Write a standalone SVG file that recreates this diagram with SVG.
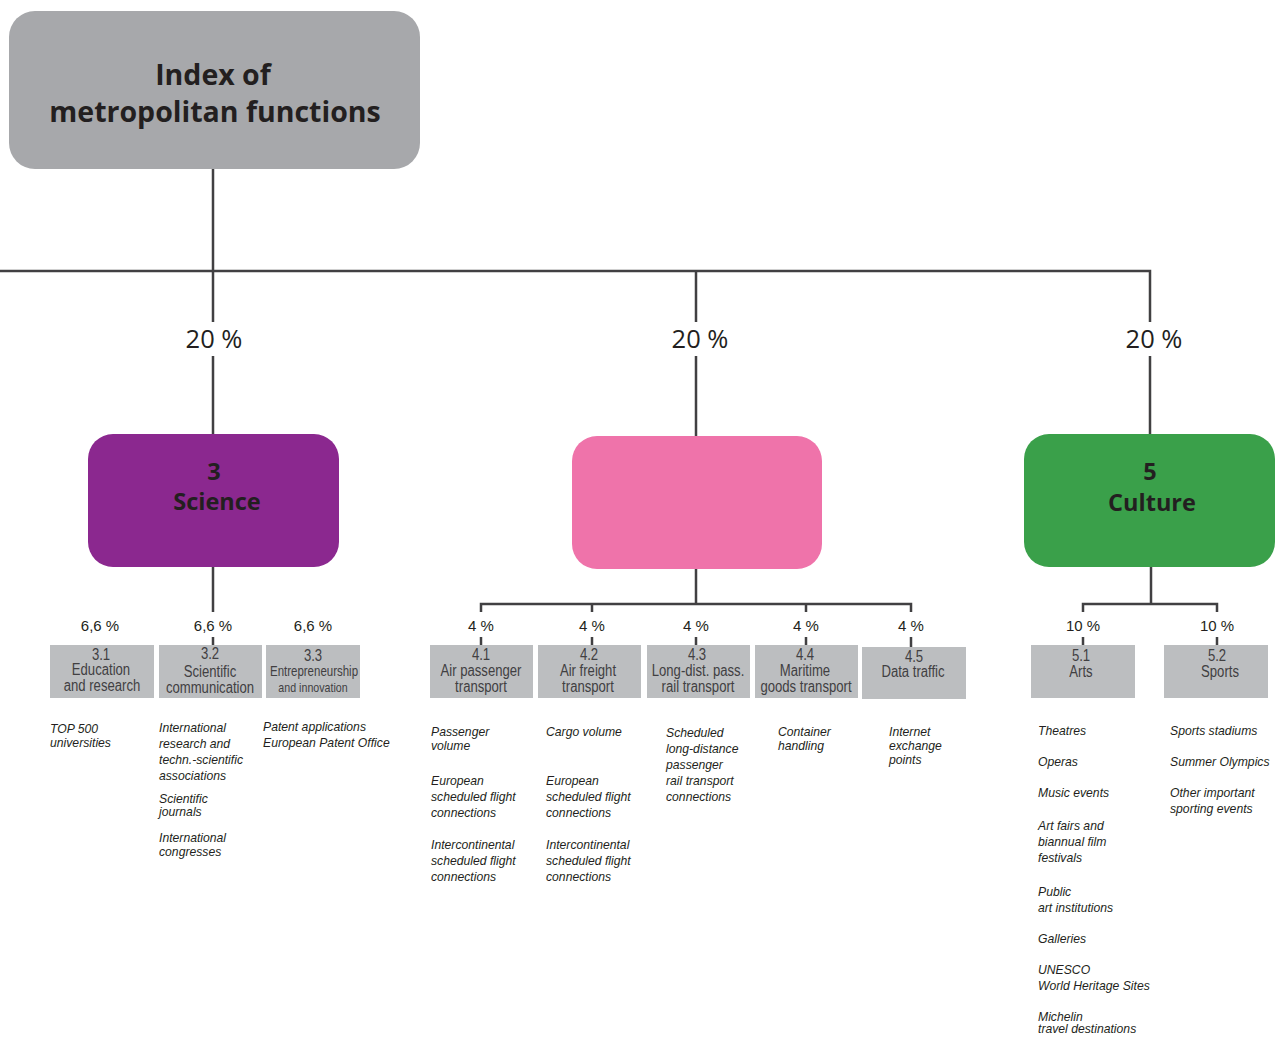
<svg xmlns="http://www.w3.org/2000/svg" width="1275" height="1037" viewBox="0 0 1275 1037">
<style>
.ln{stroke:#414042;stroke-width:2.5;fill:none}
.pct{font-family:"Open Sans","Liberation Sans",sans-serif;font-size:25.5px;fill:#231f20;text-anchor:middle}
.spct{font-family:"Liberation Sans",sans-serif;font-size:15px;fill:#231f20;text-anchor:middle}
.big{font-family:"Open Sans","Liberation Sans",sans-serif;font-weight:bold;font-size:28.5px;fill:#231f20;text-anchor:middle}
.mid{font-family:"Open Sans","Liberation Sans",sans-serif;font-weight:bold;font-size:23.5px;fill:#231f20;text-anchor:middle}
.sub{fill:#bcbec0}
.st{font-family:"Liberation Sans",sans-serif;font-size:16px;fill:#414042;text-anchor:middle}
.it{font-family:"Liberation Sans",sans-serif;font-style:italic;font-size:12.2px;fill:#231f20}
.bg{fill:#ffffff}
</style>
<rect width="1275" height="1037" fill="#ffffff"/>
<g id="connectors">
<path class="ln" d="M213 169V434M0 271H1150V434M696 271V436"/>
<path class="ln" d="M213 567V612M213 637V645"/>
<path class="ln" d="M696 569V604M481 612V604H911V612M592 604V612M806 604V612M481 637V645M592 637V645M696 637V645M806 637V645M911 637V647"/>
<path class="ln" d="M1151 567V604M1083 612V604H1217V612M1083 637V645M1217 637V645"/>
<rect class="bg" x="180" y="322" width="66" height="34"/>
<rect class="bg" x="663" y="322" width="66" height="34"/>
<rect class="bg" x="1117" y="322" width="66" height="34"/>
<text class="pct" x="214" y="348">20 %</text>
<text class="pct" x="700" y="348">20 %</text>
<text class="pct" x="1154" y="348">20 %</text>
<text class="spct" x="100" y="631">6,6 %</text>
<text class="spct" x="213" y="631">6,6 %</text>
<text class="spct" x="313" y="631">6,6 %</text>
<text class="spct" x="481" y="631">4 %</text>
<text class="spct" x="592" y="631">4 %</text>
<text class="spct" x="696" y="631">4 %</text>
<text class="spct" x="806" y="631">4 %</text>
<text class="spct" x="911" y="631">4 %</text>
<text class="spct" x="1083" y="631">10 %</text>
<text class="spct" x="1217" y="631">10 %</text>
</g>
<g id="index">
<rect x="9" y="11" width="411" height="158" rx="26" fill="#a7a8ab"/>
<text class="big" x="213" y="85">Index of</text>
<text class="big" x="215" y="122">metropolitan functions</text>
</g>
<g id="science">
<rect x="88" y="434" width="251" height="133" rx="25" fill="#8b288f"/>
<text class="mid" x="214" y="480">3</text>
<text class="mid" x="217" y="510">Science</text>
</g>
<g id="transport">
<rect x="572" y="436" width="250" height="133" rx="25" fill="#ef73aa"/>
</g>
<g id="culture">
<rect x="1024" y="434" width="251" height="133" rx="25" fill="#3aa04a"/>
<text class="mid" x="1150" y="480">5</text>
<text class="mid" x="1152" y="511">Culture</text>
</g>
<g id="n31">
<rect class="sub" x="50" y="645" width="104" height="53"/>
<text class="st" transform="translate(101 660) scale(.82 1)">3.1</text>
<text class="st" transform="translate(101 675) scale(.82 1)">Education</text>
<text class="st" transform="translate(102 691) scale(.82 1)">and research</text>
<text class="it" x="50" y="733">TOP 500</text>
<text class="it" x="50" y="747">universities</text>
</g>
<g id="n32">
<rect class="sub" x="159" y="645" width="103" height="53"/>
<text class="st" transform="translate(210 659) scale(.82 1)">3.2</text>
<text class="st" transform="translate(210 677) scale(.82 1)">Scientific</text>
<text class="st" transform="translate(210 693) scale(.82 1)">communication</text>
<text class="it" x="159" y="732">International</text>
<text class="it" x="159" y="748">research and</text>
<text class="it" x="159" y="764">techn.-scientific</text>
<text class="it" x="159" y="780">associations</text>
<text class="it" x="159" y="803">Scientific</text>
<text class="it" x="159" y="816">journals</text>
<text class="it" x="159" y="842">International</text>
<text class="it" x="159" y="856">congresses</text>
</g>
<g id="n33">
<rect class="sub" x="266" y="645" width="94" height="53"/>
<text class="st" transform="translate(313 661) scale(.82 1)">3.3</text>
<text class="st" transform="translate(314 676) scale(.82 1)" style="font-size:14px">Entrepreneurship</text>
<text class="st" transform="translate(313 692) scale(.82 1)" style="font-size:13px">and innovation</text>
<text class="it" x="263" y="731">Patent applications</text>
<text class="it" x="263" y="747">European Patent Office</text>
</g>
<g id="n41">
<rect class="sub" x="430" y="645" width="103" height="53"/>
<text class="st" transform="translate(481 660) scale(.82 1)">4.1</text>
<text class="st" transform="translate(481 676) scale(.82 1)">Air passenger</text>
<text class="st" transform="translate(481 692) scale(.82 1)">transport</text>
<text class="it" x="431" y="736">Passenger</text>
<text class="it" x="431" y="750">volume</text>
<text class="it" x="431" y="785">European</text>
<text class="it" x="431" y="801">scheduled flight</text>
<text class="it" x="431" y="817">connections</text>
<text class="it" x="431" y="849">Intercontinental</text>
<text class="it" x="431" y="865">scheduled flight</text>
<text class="it" x="431" y="881">connections</text>
</g>
<g id="n42">
<rect class="sub" x="538" y="645" width="103" height="53"/>
<text class="st" transform="translate(589 660) scale(.82 1)">4.2</text>
<text class="st" transform="translate(588 676) scale(.82 1)">Air freight</text>
<text class="st" transform="translate(588 692) scale(.82 1)">transport</text>
<text class="it" x="546" y="736">Cargo volume</text>
<text class="it" x="546" y="785">European</text>
<text class="it" x="546" y="801">scheduled flight</text>
<text class="it" x="546" y="817">connections</text>
<text class="it" x="546" y="849">Intercontinental</text>
<text class="it" x="546" y="865">scheduled flight</text>
<text class="it" x="546" y="881">connections</text>
</g>
<g id="n43">
<rect class="sub" x="647" y="645" width="103" height="53"/>
<text class="st" transform="translate(697 660) scale(.82 1)">4.3</text>
<text class="st" transform="translate(698 676) scale(.82 1)">Long-dist. pass.</text>
<text class="st" transform="translate(698 692) scale(.82 1)">rail transport</text>
<text class="it" x="666" y="737">Scheduled</text>
<text class="it" x="666" y="753">long-distance</text>
<text class="it" x="666" y="769">passenger</text>
<text class="it" x="666" y="785">rail transport</text>
<text class="it" x="666" y="801">connections</text>
</g>
<g id="n44">
<rect class="sub" x="755" y="645" width="103" height="53"/>
<text class="st" transform="translate(805 660) scale(.82 1)">4.4</text>
<text class="st" transform="translate(805 676) scale(.82 1)">Maritime</text>
<text class="st" transform="translate(806 692) scale(.82 1)">goods transport</text>
<text class="it" x="778" y="736">Container</text>
<text class="it" x="778" y="750">handling</text>
</g>
<g id="n45">
<rect class="sub" x="862" y="647" width="104" height="52"/>
<text class="st" transform="translate(914 662) scale(.82 1)">4.5</text>
<text class="st" transform="translate(913 677) scale(.82 1)">Data traffic</text>
<text class="it" x="889" y="736">Internet</text>
<text class="it" x="889" y="750">exchange</text>
<text class="it" x="889" y="764">points</text>
</g>
<g id="n51">
<rect class="sub" x="1031" y="645" width="104" height="53"/>
<text class="st" transform="translate(1081 661) scale(.82 1)">5.1</text>
<text class="st" transform="translate(1081 677) scale(.82 1)">Arts</text>
<text class="it" x="1038" y="735">Theatres</text>
<text class="it" x="1038" y="766">Operas</text>
<text class="it" x="1038" y="797">Music events</text>
<text class="it" x="1038" y="830">Art fairs and</text>
<text class="it" x="1038" y="846">biannual film</text>
<text class="it" x="1038" y="862">festivals</text>
<text class="it" x="1038" y="896">Public</text>
<text class="it" x="1038" y="912">art institutions</text>
<text class="it" x="1038" y="943">Galleries</text>
<text class="it" x="1038" y="974">UNESCO</text>
<text class="it" x="1038" y="990">World Heritage Sites</text>
<text class="it" x="1038" y="1021">Michelin</text>
<text class="it" x="1038" y="1033">travel destinations</text>
</g>
<g id="n52">
<rect class="sub" x="1164" y="645" width="104" height="53"/>
<text class="st" transform="translate(1217 661) scale(.82 1)">5.2</text>
<text class="st" transform="translate(1220 677) scale(.82 1)">Sports</text>
<text class="it" x="1170" y="735">Sports stadiums</text>
<text class="it" x="1170" y="766">Summer Olympics</text>
<text class="it" x="1170" y="797">Other important</text>
<text class="it" x="1170" y="813">sporting events</text>
</g>
</svg>
